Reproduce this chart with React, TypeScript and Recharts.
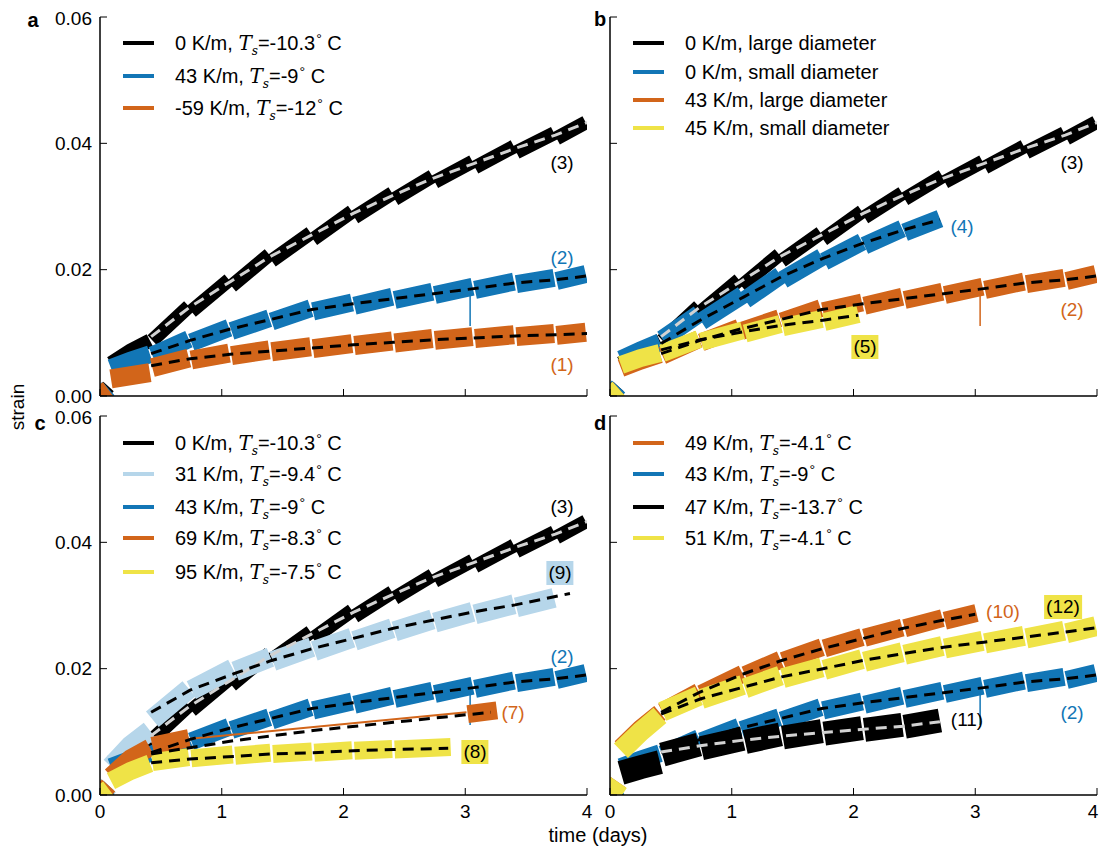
import React from 'react';
import { LineChart, Line, XAxis, YAxis } from 'recharts';

type P = [number, number | null];

const days = [0, 1, 2, 3, 4];
const strainTicks = [0, 0.02, 0.04, 0.06];

// 0 K/m, Ts=-10.3 C (black, panels a b c)
const k0Data: P[] = [
  [0, 0], [0.07, 0.0015], [0.08, null],
  [0.09, 0.0052], [0.25, 0.0072], [0.41, 0.0088], [0.42, null],
  [0.43, 0.0088], [0.73, 0.0142], [0.74, null],
  [0.75, 0.0134], [1.06, 0.0184], [1.07, null],
  [1.08, 0.0174], [1.39, 0.0224], [1.4, null],
  [1.41, 0.0214], [1.73, 0.0258], [1.74, null],
  [1.75, 0.0248], [2.07, 0.0292], [2.08, null],
  [2.09, 0.0283], [2.4, 0.0321], [2.41, null],
  [2.42, 0.0312], [2.73, 0.0348], [2.74, null],
  [2.75, 0.0339], [3.06, 0.0371], [3.07, null],
  [3.08, 0.0362], [3.4, 0.0395], [3.41, null],
  [3.42, 0.0386], [3.73, 0.0416], [3.74, null],
  [3.75, 0.0408], [3.99, 0.0433],
];
const k0Fit: P[] = [
  [0.42, 0.0094], [0.74, 0.0141], [1.07, 0.0181], [1.4, 0.0221], [1.74, 0.0255], [2.08, 0.0289],
  [2.41, 0.0318], [2.74, 0.0345], [3.07, 0.0368], [3.41, 0.0392], [3.74, 0.0413], [4.0, 0.0433],
];

// 43 K/m, Ts=-9 C
const k43Data: P[] = [
  [0, 0], [0.07, 0.0012], [0.08, null],
  [0.09, 0.0044], [0.25, 0.0056], [0.41, 0.0066], [0.42, null],
  [0.43, 0.0064], [0.73, 0.009], [0.74, null],
  [0.75, 0.0085], [1.06, 0.0108], [1.07, null],
  [1.08, 0.0103], [1.39, 0.0123], [1.4, null],
  [1.41, 0.0118], [1.73, 0.0139], [1.74, null],
  [1.75, 0.0134], [2.07, 0.0148], [2.08, null],
  [2.09, 0.0143], [2.4, 0.0157], [2.41, null],
  [2.42, 0.0152], [2.73, 0.0165], [2.74, null],
  [2.75, 0.016], [3.06, 0.0173], [3.07, null],
  [3.08, 0.0168], [3.4, 0.0181], [3.41, null],
  [3.42, 0.0177], [3.73, 0.0187], [3.74, null],
  [3.75, 0.0182], [3.99, 0.0193],
];
const k43Spike: P[] = [[3.04, 0.0166], [3.04, 0.0111]];
const k43Fit: P[] = [
  [0.42, 0.0067], [0.74, 0.0088], [1.07, 0.0106], [1.4, 0.0121], [1.74, 0.0137], [2.08, 0.0146],
  [2.41, 0.0154], [2.74, 0.0162], [3.07, 0.017], [3.41, 0.0179], [3.74, 0.0184], [4.0, 0.019],
];

// -59 K/m, Ts=-12 C
const km59Data: P[] = [
  [0, 0], [0.07, 0.001], [0.08, null],
  [0.09, 0.0027], [0.41, 0.0037], [0.42, null],
  [0.43, 0.0045], [0.73, 0.006], [0.74, null],
  [0.75, 0.0057], [1.06, 0.0068], [1.07, null],
  [1.08, 0.0064], [1.39, 0.0073], [1.4, null],
  [1.41, 0.007], [1.73, 0.0078], [1.74, null],
  [1.75, 0.0075], [2.07, 0.0083], [2.08, null],
  [2.09, 0.008], [2.4, 0.0087], [2.41, null],
  [2.42, 0.0084], [2.73, 0.0091], [2.74, null],
  [2.75, 0.0088], [3.06, 0.0094], [3.07, null],
  [3.08, 0.0091], [3.4, 0.0097], [3.41, null],
  [3.42, 0.0094], [3.73, 0.0099], [3.74, null],
  [3.75, 0.0096], [3.99, 0.0101],
];
const km59Fit: P[] = [
  [0.42, 0.0048], [0.74, 0.0059], [1.07, 0.0066], [1.4, 0.0071], [1.74, 0.0076], [2.08, 0.0081],
  [2.41, 0.0085], [2.74, 0.0089], [3.07, 0.0092], [3.41, 0.0095], [3.74, 0.0097], [4.0, 0.0099],
];

// 0 K/m small diameter
const small0Data: P[] = [
  [0, 0], [0.07, 0.0015], [0.08, null],
  [0.09, 0.0058], [0.25, 0.0072], [0.41, 0.0085], [0.42, null],
  [0.43, 0.009], [0.73, 0.013], [0.74, null],
  [0.75, 0.0118], [1.09, 0.016], [1.1, null],
  [1.11, 0.0152], [1.4, 0.0191], [1.41, null],
  [1.42, 0.0184], [1.74, 0.022], [1.75, null],
  [1.76, 0.0213], [2.07, 0.0244], [2.08, null],
  [2.09, 0.0238], [2.4, 0.0265], [2.41, null],
  [2.42, 0.0259], [2.71, 0.0281],
];
const small0Fit: P[] = [
  [0.42, 0.0083], [0.74, 0.012], [1.1, 0.0157], [1.41, 0.0189], [1.75, 0.0218], [2.08, 0.0242],
  [2.41, 0.0263], [2.71, 0.0279],
];

// 45 K/m small diameter
const small45Data: P[] = [
  [0, 0], [0.07, 0.0012], [0.08, null],
  [0.09, 0.0049], [0.25, 0.006], [0.41, 0.0068], [0.42, null],
  [0.43, 0.0068], [0.73, 0.009], [0.74, null],
  [0.75, 0.0086], [1.09, 0.0104], [1.1, null],
  [1.11, 0.0099], [1.4, 0.0114], [1.41, null],
  [1.42, 0.0109], [1.74, 0.0122], [1.75, null],
  [1.76, 0.0117], [2.04, 0.013],
];
const small45Fit: P[] = [
  [0.42, 0.0073], [0.74, 0.0089], [1.1, 0.0102], [1.41, 0.0112], [1.75, 0.012], [2.04, 0.0128],
];

// 31 K/m, Ts=-9.4 C
const k31Data: P[] = [
  [0, 0], [0.07, 0.0015], [0.08, null],
  [0.09, 0.0045], [0.25, 0.0078], [0.41, 0.0102], [0.42, null],
  [0.43, 0.012], [0.73, 0.0168], [0.74, null],
  [0.75, 0.0166], [1.09, 0.02], [1.1, null],
  [1.11, 0.0196], [1.4, 0.0218], [1.41, null],
  [1.42, 0.0212], [1.74, 0.0234], [1.75, null],
  [1.76, 0.0228], [2.07, 0.0249], [2.08, null],
  [2.09, 0.0244], [2.4, 0.0264], [2.41, null],
  [2.42, 0.0259], [2.73, 0.0278], [2.74, null],
  [2.75, 0.0273], [3.06, 0.029], [3.07, null],
  [3.08, 0.0286], [3.4, 0.0302], [3.41, null],
  [3.42, 0.0297], [3.73, 0.0312],
];
const k31Fit: P[] = [
  [0.42, 0.0131], [0.74, 0.0166], [1.1, 0.0192], [1.41, 0.0213], [1.75, 0.0232], [2.08, 0.0248],
  [2.41, 0.0264], [2.74, 0.0277], [3.07, 0.029], [3.41, 0.0301], [3.86, 0.0319],
];

// 69 K/m, Ts=-8.3 C
const k69Data: P[] = [
  [0, 0], [0.07, 0.0015], [0.08, null],
  [0.09, 0.003], [0.25, 0.0058], [0.41, 0.0075], [0.42, null],
  [0.43, 0.0078], [0.73, 0.009], [0.74, null],
  [3.02, 0.0128], [3.26, 0.0134],
];
const k69Gap: P[] = [[0.74, 0.0089], [3.01, 0.0131]];
const k69Fit: P[] = [[0.42, 0.0065], [1.1, 0.0086], [1.75, 0.0102], [2.41, 0.0115], [3.21, 0.0131]];

// 95 K/m, Ts=-7.5 C
const k95Data: P[] = [
  [0, 0], [0.07, 0.001], [0.08, null],
  [0.09, 0.0022], [0.25, 0.0038], [0.41, 0.005], [0.42, null],
  [0.43, 0.0052], [0.73, 0.006], [0.74, null],
  [0.75, 0.0058], [1.09, 0.0064], [1.1, null],
  [1.11, 0.0062], [1.4, 0.0067], [1.41, null],
  [1.42, 0.0065], [1.74, 0.0069], [1.75, null],
  [1.76, 0.0067], [2.07, 0.0071], [2.08, null],
  [2.09, 0.007], [2.4, 0.0073], [2.41, null],
  [2.42, 0.0072], [2.88, 0.0076],
];
const k95Fit: P[] = [
  [0.42, 0.0051], [0.74, 0.0057], [1.1, 0.0061], [1.41, 0.0065], [1.75, 0.0067], [2.08, 0.007],
  [2.41, 0.0072], [2.86, 0.0074],
];

// 49 K/m, Ts=-4.1 C
const k49Data: P[] = [
  [0, 0], [0.07, 0.002], [0.08, null],
  [0.09, 0.0075], [0.25, 0.0105], [0.41, 0.013], [0.42, null],
  [0.43, 0.0132], [0.73, 0.0163], [0.74, null],
  [0.75, 0.016], [1.09, 0.0192], [1.1, null],
  [1.11, 0.019], [1.4, 0.0214], [1.41, null],
  [1.42, 0.0212], [1.74, 0.0234], [1.75, null],
  [1.76, 0.0232], [2.07, 0.025], [2.08, null],
  [2.09, 0.0249], [2.4, 0.0265], [2.41, null],
  [2.42, 0.0264], [2.73, 0.028], [2.74, null],
  [2.75, 0.0276], [3.01, 0.0288],
];
const k49Fit: P[] = [
  [0.42, 0.0131], [0.74, 0.0163], [1.1, 0.0192], [1.41, 0.0213], [1.75, 0.0232], [2.08, 0.0248],
  [2.41, 0.0264], [2.74, 0.0277], [3.0, 0.0286],
];

// 47 K/m, Ts=-13.7 C
const k47Data: P[] = [
  [0, 0], [0.07, 0.001], [0.08, null],
  [0.09, 0.0035], [0.25, 0.0044], [0.41, 0.0052], [0.42, null],
  [0.43, 0.0064], [0.73, 0.008], [0.74, null],
  [0.75, 0.0074], [1.09, 0.0089], [1.1, null],
  [1.11, 0.0084], [1.4, 0.0096], [1.41, null],
  [1.42, 0.0091], [1.74, 0.0101], [1.75, null],
  [1.76, 0.0097], [2.07, 0.0106], [2.08, null],
  [2.09, 0.0103], [2.4, 0.0111], [2.41, null],
  [2.42, 0.0108], [2.71, 0.0118],
];
const k47Fit: P[] = [
  [0.42, 0.0068], [0.74, 0.0078], [1.1, 0.0087], [1.41, 0.0093], [1.75, 0.0099], [2.08, 0.0104],
  [2.41, 0.0109], [2.71, 0.0116],
];

// 51 K/m, Ts=-4.1 C
const k51Data: P[] = [
  [0, 0], [0.07, 0.002], [0.08, null],
  [0.09, 0.007], [0.25, 0.01], [0.41, 0.0126], [0.42, null],
  [0.43, 0.0132], [0.73, 0.0157], [0.74, null],
  [0.75, 0.0152], [1.09, 0.0174], [1.1, null],
  [1.11, 0.0169], [1.4, 0.0189], [1.41, null],
  [1.42, 0.0185], [1.74, 0.0202], [1.75, null],
  [1.76, 0.0198], [2.07, 0.0215], [2.08, null],
  [2.09, 0.0211], [2.4, 0.0226], [2.41, null],
  [2.42, 0.0222], [2.73, 0.0236], [2.74, null],
  [2.75, 0.0232], [3.06, 0.0244], [3.07, null],
  [3.08, 0.024], [3.4, 0.0252], [3.41, null],
  [3.42, 0.0248], [3.73, 0.026], [3.74, null],
  [3.75, 0.0256], [3.99, 0.0267],
];
const k51Fit: P[] = [
  [0.42, 0.0128], [0.74, 0.0152], [1.1, 0.0171], [1.41, 0.0187], [1.75, 0.02], [2.08, 0.0213],
  [2.41, 0.0224], [2.74, 0.0234], [3.07, 0.0242], [3.41, 0.025], [3.74, 0.0258], [4.0, 0.0265],
];

const BLACK = '#000000';
const BLUE = '#1276b6';
const ORANGE = '#d2651a';
const YELLOW = '#efe347';
const LIGHT = '#b6d6ea';
const GREY = '#d2d2d2';
const FONT = "'Liberation Sans', Arial, Helvetica, sans-serif";
const SERIF = "'DejaVu Serif', 'Liberation Serif', serif";

type Series = { data: P[]; color: string; width: number };
type Fit = { data: P[]; color: string };
type Note = { text: string; x: number; y: number; color: string; bg?: string };
type LegendItem = { color: string; name: string; ts?: string };

const toPts = (a: P[]) => a.map(([t, v]) => ({ t, v }));

function Ts({ value }: { value: string }) {
  return (
    <span>
      <span style={{ fontFamily: SERIF, fontStyle: 'italic' }}>T</span>
      <span style={{ fontFamily: SERIF, fontStyle: 'italic', fontSize: '0.6em', position: 'relative', top: '0.4em' }}>s</span>
      ={value}
      <span style={{ fontSize: '0.7em', position: 'relative', top: '-0.45em', marginLeft: 1 }}>°</span> C
    </span>
  );
}

function Panel(props: {
  left: number; top: number; letter: string; letterX: number; letterY: number;
  series: Series[]; fits: Fit[]; showX: boolean; showY: boolean; edge?: boolean;
  legend: LegendItem[]; legendX: number; legendRows: number[]; notes: Note[];
}) {
  const { left, top, series, fits, showX, showY, edge } = props;
  const axisLine = { stroke: '#000', strokeWidth: 1.5 };
  const tickStyle = { fill: '#000', fontSize: 19, fontFamily: FONT };
  const xTick = (p: any) => {
    if (!showX) return <g />;
    const v = p.payload.value;
    // last label on the right-hand panels sits at the page edge
    const dx = edge && v === 4 ? -4 : 0;
    return (
      <text x={p.x + dx} y={p.y} dy="0.71em" textAnchor="middle" fill="#000" fontSize={19} fontFamily={FONT}>{v}</text>
    );
  };
  return (
    <>
      <div style={{ position: 'absolute', left: left - 60, top: top - 10 }}>
        <LineChart width={557} height={419} margin={{ top: 10, right: 10, bottom: 0, left: 0 }}>
          <XAxis type="number" dataKey="t" domain={[0, 4]} ticks={days} allowDataOverflow height={30}
            tickSize={-7} tickMargin={17} axisLine={axisLine} tickLine={{ stroke: '#000' }} tick={xTick} />
          <XAxis xAxisId="top" orientation="top" type="number" dataKey="t" domain={[0, 4]} ticks={days} height={0}
            tickSize={-7} axisLine={axisLine} tickLine={{ stroke: '#000' }} tickFormatter={() => ''} />
          <YAxis type="number" domain={[0, 0.06]} ticks={strainTicks} allowDataOverflow width={60}
            tickSize={-7} tickMargin={15} axisLine={axisLine} tickLine={{ stroke: '#000' }} tick={tickStyle}
            tickFormatter={(v: number) => (showY ? v.toFixed(2) : '')} />
          <YAxis yAxisId="right" orientation="right" type="number" domain={[0, 0.06]} ticks={strainTicks} width={0}
            tickSize={-7} axisLine={axisLine} tickLine={{ stroke: '#000' }} tickFormatter={() => ''} />
          {series.map((s, i) => (
            <Line key={'s' + i} data={toPts(s.data)} dataKey="v" type="linear" stroke={s.color}
              strokeWidth={s.width} strokeLinecap="butt" dot={false} activeDot={false}
              isAnimationActive={false} connectNulls={false} />
          ))}
          {fits.map((f, i) => (
            <Line key={'f' + i} data={toPts(f.data)} dataKey="v" type="linear" stroke={f.color}
              strokeWidth={3} strokeDasharray="11 7" dot={false} activeDot={false}
              isAnimationActive={false} />
          ))}
        </LineChart>
      </div>
      {props.legend.map((it, i) => (
        <div key={'l' + i} style={{ position: 'absolute', left: props.legendX, top: props.legendRows[i] - 13, height: 26,
          display: 'flex', alignItems: 'center', fontSize: 20, fontFamily: FONT, whiteSpace: 'nowrap' }}>
          <span style={{ display: 'inline-block', width: 31, height: 4, background: it.color, marginRight: 21 }} />
          <span>{it.name}{it.ts !== undefined ? <>, <Ts value={it.ts} /></> : null}</span>
        </div>
      ))}
      {props.notes.map((n, i) => (
        <div key={'n' + i} style={{ position: 'absolute', left: n.x, top: n.y, transform: 'translate(-50%, -50%)',
          color: n.color, background: n.bg || 'transparent', padding: n.bg ? '1px 2px' : 0,
          fontSize: 19, fontFamily: FONT, lineHeight: '22px' }}>{n.text}</div>
      ))}
      <div style={{ position: 'absolute', left: props.letterX, top: props.letterY, transform: 'translate(-50%, -50%)',
        fontSize: 20, fontWeight: 'bold', fontFamily: FONT }}>{props.letter}</div>
    </>
  );
}

const legendA: LegendItem[] = [
  { color: BLACK, name: '0 K/m', ts: '-10.3' },
  { color: BLUE, name: '43 K/m', ts: '-9' },
  { color: ORANGE, name: '-59 K/m', ts: '-12' },
];
const legendB: LegendItem[] = [
  { color: BLACK, name: '0 K/m, large diameter' },
  { color: BLUE, name: '0 K/m, small diameter' },
  { color: ORANGE, name: '43 K/m, large diameter' },
  { color: YELLOW, name: '45 K/m, small diameter' },
];
const legendC: LegendItem[] = [
  { color: BLACK, name: '0 K/m', ts: '-10.3' },
  { color: LIGHT, name: '31 K/m', ts: '-9.4' },
  { color: BLUE, name: '43 K/m', ts: '-9' },
  { color: ORANGE, name: '69 K/m', ts: '-8.3' },
  { color: YELLOW, name: '95 K/m', ts: '-7.5' },
];
const legendD: LegendItem[] = [
  { color: ORANGE, name: '49 K/m', ts: '-4.1' },
  { color: BLUE, name: '43 K/m', ts: '-9' },
  { color: BLACK, name: '47 K/m', ts: '-13.7' },
  { color: YELLOW, name: '51 K/m', ts: '-4.1' },
];

export default function App() {
  return (
    <div style={{ position: 'absolute', left: 0, top: 0, width: 1100, height: 852, background: '#fff', fontFamily: FONT }}>
      <Panel left={100} top={17} letter="a" letterX={33} letterY={20} showX={false} showY
        series={[
          { data: k0Data, color: BLACK, width: 14 },
          { data: k43Data, color: BLUE, width: 18 },
          { data: k43Spike, color: BLUE, width: 1.5 },
          { data: km59Data, color: ORANGE, width: 19 },
        ]}
        fits={[{ data: k0Fit, color: GREY }, { data: k43Fit, color: BLACK }, { data: km59Fit, color: BLACK }]}
        legend={legendA} legendX={123} legendRows={[43, 76, 108]}
        notes={[
          { text: '(3)', x: 562, y: 163, color: BLACK },
          { text: '(2)', x: 562, y: 258, color: BLUE },
          { text: '(1)', x: 562, y: 365, color: ORANGE },
        ]} />
      <Panel left={610} top={17} letter="b" letterX={600} letterY={19} showX={false} showY={false}
        series={[
          { data: k0Data, color: BLACK, width: 14 },
          { data: small0Data, color: BLUE, width: 18 },
          { data: k43Data, color: ORANGE, width: 18 },
          { data: k43Spike, color: ORANGE, width: 1.5 },
          { data: small45Data, color: YELLOW, width: 18 },
        ]}
        fits={[
          { data: k0Fit, color: GREY }, { data: small0Fit, color: BLACK },
          { data: k43Fit, color: BLACK }, { data: small45Fit, color: BLACK },
        ]}
        legend={legendB} legendX={633} legendRows={[43, 72, 100, 128]}
        notes={[
          { text: '(3)', x: 1072, y: 163, color: BLACK },
          { text: '(4)', x: 962, y: 227, color: BLUE },
          { text: '(2)', x: 1072, y: 310, color: ORANGE },
          { text: '(5)', x: 865, y: 347, color: BLACK, bg: YELLOW },
        ]} />
      <Panel left={100} top={416} letter="c" letterX={40} letterY={423} showX showY
        series={[
          { data: k0Data, color: BLACK, width: 14 },
          { data: k31Data, color: LIGHT, width: 20 },
          { data: k43Data, color: BLUE, width: 18 },
          { data: k43Spike, color: BLUE, width: 1.5 },
          { data: k69Data, color: ORANGE, width: 18 },
          { data: k69Gap, color: ORANGE, width: 2 },
          { data: k95Data, color: YELLOW, width: 18 },
        ]}
        fits={[
          { data: k0Fit, color: GREY }, { data: k31Fit, color: BLACK }, { data: k43Fit, color: BLACK },
          { data: k69Fit, color: BLACK }, { data: k95Fit, color: BLACK },
        ]}
        legend={legendC} legendX={123} legendRows={[443, 474, 507, 538, 572]}
        notes={[
          { text: '(3)', x: 562, y: 507, color: BLACK },
          { text: '(9)', x: 560, y: 573, color: BLACK, bg: LIGHT },
          { text: '(2)', x: 562, y: 657, color: BLUE },
          { text: '(7)', x: 513, y: 713, color: ORANGE },
          { text: '(8)', x: 475, y: 752, color: BLACK, bg: YELLOW },
        ]} />
      <Panel left={610} top={416} letter="d" letterX={600} letterY={423} showX showY={false} edge
        series={[
          { data: k49Data, color: ORANGE, width: 18 },
          { data: k43Data, color: BLUE, width: 18 },
          { data: k43Spike, color: BLUE, width: 1.5 },
          { data: k47Data, color: BLACK, width: 24 },
          { data: k51Data, color: YELLOW, width: 20 },
        ]}
        fits={[
          { data: k49Fit, color: BLACK }, { data: k43Fit, color: BLACK },
          { data: k47Fit, color: GREY }, { data: k51Fit, color: BLACK },
        ]}
        legend={legendD} legendX={633} legendRows={[443, 474, 507, 538]}
        notes={[
          { text: '(10)', x: 1003, y: 612, color: ORANGE },
          { text: '(12)', x: 1063, y: 607, color: BLACK, bg: YELLOW },
          { text: '(2)', x: 1072, y: 713, color: BLUE },
          { text: '(11)', x: 967, y: 720, color: BLACK },
        ]} />
      <div style={{ position: 'absolute', left: 18, top: 407, transform: 'translate(-50%, -50%) rotate(-90deg)', fontSize: 19 }}>strain</div>
      <div style={{ position: 'absolute', left: 598, top: 835, transform: 'translate(-50%, -50%)', fontSize: 20 }}>time (days)</div>
    </div>
  );
}
